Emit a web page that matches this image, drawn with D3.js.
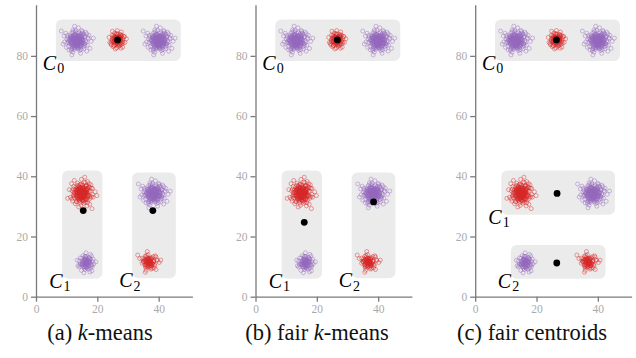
<!DOCTYPE html>
<html>
<head>
<meta charset="utf-8">
<script src="https://cdn.jsdelivr.net/npm/d3@7"></script>
<style>
  body { margin: 0; background: #fff; }
  text { font-family: "Liberation Serif", "DejaVu Serif", serif; }
</style>
</head>
<body>
<div id="chart"></div>
<script>
// jitter offsets (unit spread), typed by hand and shared by every group of points
const offsets = [
  [0.3,-0.5],[-1.2,0.8],[0.7,1.1],[-0.4,-0.2],[1.5,-0.9],[-0.8,-1.4],[0.1,0.6],[2.1,0.4],[-1.7,-0.3],[0.5,-1.8],
  [-0.2,1.9],[1.1,0.2],[-0.6,0.5],[0.9,-0.4],[-1.0,-0.7],[0.0,-1.1],[1.8,1.3],[-2.3,0.9],[0.4,0.1],[-0.9,1.5],
  [1.3,-1.5],[-0.3,-0.9],[0.6,0.8],[-1.4,0.2],[0.2,-0.3],[2.6,-0.1],[-0.7,-2.1],[1.0,1.7],[-1.9,-1.2],[0.8,-0.6],
  [-0.1,0.3],[1.4,0.7],[-1.1,-0.1],[0.3,2.4],[-0.5,-1.6],[1.7,-0.3],[-2.0,1.4],[0.1,-0.8],[0.9,0.9],[-1.3,-0.5],
  [0.5,0.4],[-0.8,0.1],[1.2,-1.1],[-0.2,-0.4],[2.2,1.0],[-1.6,0.6],[0.7,-2.3],[-0.4,1.2],[1.6,0.0],[-1.0,-1.8],
  [0.2,0.9],[-2.5,-0.6],[1.1,-0.2],[-0.6,-1.0],[0.4,1.5],[-1.2,1.1],[1.9,-0.8],[-0.3,0.0],[0.8,0.3],[-1.5,-1.0],
  [0.0,0.7],[1.3,1.2],[-0.9,-0.3],[0.6,-1.3],[-1.8,0.3],[2.4,-1.4],[-0.1,-0.6],[1.0,0.5],[-0.7,2.0],[0.3,-1.0],
  [-1.4,-1.7],[0.9,1.9],[-0.5,0.4],[1.5,0.8],[-1.1,0.7],[0.2,-1.5],[-2.2,-0.2],[1.8,-1.9],[-0.2,1.0],[0.5,-0.1],
  [-0.8,-0.8],[1.2,0.1],[-0.4,2.7],[2.0,0.6],[-1.3,0.0],[0.7,-0.9],[-0.6,1.7],[1.4,-0.6],[0.1,0.2],[-1.7,1.0],
  [3.0,0.5],[-0.9,-2.6],[0.4,-0.4],[-2.8,1.8],[1.1,1.4],[-0.3,-1.3],[0.8,-1.6],[-1.0,0.4],[0.0,-0.2],[1.6,1.6]
];

// point groups (same data in all three panels)
const groupColor = ['purple', 'red', 'purple', 'red', 'purple', 'purple', 'red'];
const groupCx = [13.3, 26.6, 40.0, 15.0, 38.4, 16.4, 36.8];
const groupCy = [85.0, 85.3, 85.0, 34.3, 34.2, 11.2, 11.5];
const groupSpread = [1.8, 1.2, 1.8, 1.8, 1.8, 1.3, 1.3];
const groupCount = [100, 60, 100, 100, 100, 50, 50];
const groupCoreCount = [90, 40, 90, 90, 90, 35, 35];
const groupStart = [0, 17, 41, 63, 29, 8, 77];

// clusters per panel: member groups and centroid
const panelTitles = [['(a) ', 'k', '-means'], ['(b) fair ', 'k', '-means'], ['(c) fair centroids', '', '']];
const panelMembers = [
  [[0, 1, 2], [3, 5], [4, 6]],
  [[0, 1, 2], [3, 5], [4, 6]],
  [[0, 1, 2], [3, 4], [5, 6]]
];
const panelCentroids = [
  [[26.6, 85.3], [15.4, 28.6], [38.1, 28.6]],
  [[26.7, 85.3], [15.9, 24.7], [38.5, 31.5]],
  [[26.5, 85.3], [26.7, 34.3], [26.6, 11.2]]
];

const xTicks = [0, 20, 40];
const yTicks = [0, 20, 40, 60, 80];

const colors = { purple: '#9467bd', red: '#d62728' };
const panelLeft = [36, 255.5, 475.2];
const captionX = [100, 317, 532];

let points = [];
groupCx.forEach((cx, g) => {
  for (let i = 0; i < groupCount[g]; i++) {
    let o = offsets[(i + groupStart[g]) % offsets.length];
    let ox = g % 2 ? o[1] : o[0];
    let oy = g % 2 ? o[0] : o[1];
    points.push({ group: g, x: cx + ox * groupSpread[g], y: groupCy[g] + oy * groupSpread[g] });
  }
  // denser core of the same group
  for (let i = 0; i < groupCoreCount[g]; i++) {
    let o = offsets[(i + groupStart[g] + 50) % offsets.length];
    points.push({ group: g, x: cx - o[1] * groupSpread[g] * 0.55, y: groupCy[g] + o[0] * groupSpread[g] * 0.55 });
  }
});

let svg = d3.select('#chart')
    .append('svg')
    .attr('width', 636)
    .attr('height', 358);

let x = d3.scaleLinear().domain([0, 51]).range([0, 156.4]);
let y = d3.scaleLinear().domain([0, 97]).range([296.7, 4.7]);

panelLeft.forEach((left, p) => {
  let g = svg.append('g').attr('transform', 'translate(' + left + ',0)');

  // grey cluster boxes
  let boxes = panelMembers[p].map(members => {
    let pts = points.filter(d => members.includes(d.group));
    let ex = d3.extent(pts, d => d.x);
    let ey = d3.extent(pts, d => d.y);
    return { x0: x(ex[0] - 1.8), x1: x(ex[1] + 1.8), y0: y(ey[1] + 2.2), y1: y(ey[0] - 2.0) };
  });

  g.selectAll('rect.box')
      .data(boxes)
      .enter()
      .append('rect')
      .attr('class', 'box')
      .attr('x', d => d.x0)
      .attr('y', d => d.y0)
      .attr('width', d => d.x1 - d.x0)
      .attr('height', d => d.y1 - d.y0)
      .attr('rx', 6)
      .attr('fill', '#ebebeb');

  // axes
  let yAxis = d3.axisLeft(y).tickValues(yTicks).tickSize(5).tickSizeOuter(0).tickPadding(3);
  let xAxis = d3.axisBottom(x).tickValues(xTicks).tickSize(5).tickSizeOuter(0).tickPadding(3);
  let ya = g.append('g').call(yAxis);
  let xa = g.append('g').attr('transform', 'translate(0,' + y(0) + ')').call(xAxis);
  [ya, xa].forEach(a => {
    a.select('.domain').attr('stroke', '#7a7a7a').attr('stroke-width', 1.3);
    a.selectAll('.tick line').attr('stroke', '#7a7a7a').attr('stroke-width', 1.3);
    a.selectAll('.tick text')
        .attr('fill', '#aaaaaa')
        .attr('font-size', '11.5px')
        .attr('font-family', '"Liberation Serif", serif');
  });

  // points
  g.append('g')
      .selectAll('circle')
      .data(points)
      .enter()
      .append('circle')
      .attr('cx', d => x(d.x))
      .attr('cy', d => y(d.y))
      .attr('r', 2)
      .attr('fill', 'none')
      .attr('stroke', d => colors[groupColor[d.group]])
      .attr('stroke-opacity', 0.55)
      .attr('stroke-width', 0.8);

  // centroids
  g.append('g')
      .selectAll('circle')
      .data(panelCentroids[p])
      .enter()
      .append('circle')
      .attr('cx', d => x(d[0]))
      .attr('cy', d => y(d[1]))
      .attr('r', 3.4)
      .attr('fill', '#000');

  // cluster labels
  let labels = g.selectAll('text.lab')
      .data(boxes)
      .enter()
      .append('text')
      .attr('class', 'lab')
      .attr('x', d => d.x0 - 13)
      .attr('y', d => d.y1 + 9)
      .attr('font-size', '20px')
      .attr('fill', '#000');
  labels.append('tspan').attr('font-style', 'italic').text('C');
  labels.append('tspan')
      .attr('font-size', '14px')
      .attr('dy', 3.5)
      .attr('dx', 1)
      .text((d, i) => i);

  // caption
  let t = panelTitles[p];
  let cap = svg.append('text')
      .attr('x', captionX[p])
      .attr('y', 340)
      .attr('text-anchor', 'middle')
      .attr('font-size', '22.5px')
      .attr('fill', '#111');
  cap.append('tspan').text(t[0]);
  if (t[1]) cap.append('tspan').attr('font-style', 'italic').text(t[1]);
  if (t[2]) cap.append('tspan').text(t[2]);
});
</script>
</body>
</html>
